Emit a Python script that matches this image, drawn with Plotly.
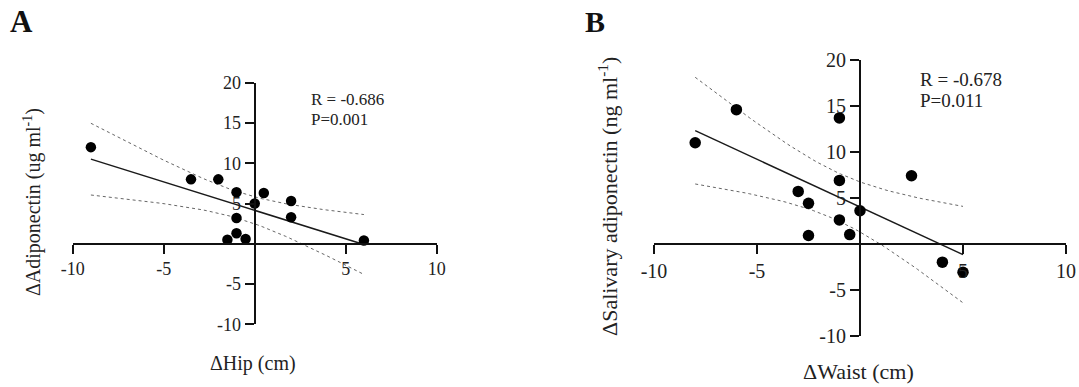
import numpy as np
import plotly.graph_objects as go

# Panel A: change in hip circumference vs change in serum adiponectin
hip_x = [-9, -3.5, -2, -1, -1, -1, -1.5, -0.5, 0, 0.5, 2, 2, 6]
adipo_y = [12, 8, 8, 6.4, 3.2, 1.3, 0.5, 0.6, 5, 6.3, 5.3, 3.3, 0.4]

# Panel B: change in waist circumference vs change in salivary adiponectin
waist_x = [-8, -6, -1, -1, -3, -2.5, -1, -2.5, -0.5, 0, 2.5, 4, 5]
saliv_y = [11, 14.6, 13.7, 6.9, 5.7, 4.4, 2.6, 0.9, 1.0, 3.6, 7.4, -2.0, -3.1]

stats_a = ["R = -0.686", "P=0.001"]
stats_b = ["R = -0.678", "P=0.011"]

x_ticks = [-10, -5, 5, 10]
y_ticks = [-10, -5, 5, 10, 15, 20]

T_CRIT = 2.201  # two-sided 95% t quantile, 11 degrees of freedom

W, H = 1079, 387
FONT = "Liberation Serif"


def fit_with_band(x, y, npts=60):
    x = np.asarray(x, float)
    y = np.asarray(y, float)
    n = len(x)
    slope, icpt = np.polyfit(x, y, 1)
    xm = x.mean()
    sxx = ((x - xm) ** 2).sum()
    resid = y - (slope * x + icpt)
    s = np.sqrt((resid ** 2).sum() / (n - 2))
    xs = np.linspace(x.min(), x.max(), npts)
    ys = slope * xs + icpt
    se = s * np.sqrt(1.0 / n + (xs - xm) ** 2 / sxx)
    return xs, ys, ys - T_CRIT * se, ys + T_CRIT * se


def px_x(p):
    return p / W


def px_y(p):
    return 1 - p / H


fig = go.Figure()

panels = [
    dict(x=hip_x, y=adipo_y, xa="x", ya="y", msize=10.5),
    dict(x=waist_x, y=saliv_y, xa="x2", ya="y2", msize=11.5),
]

for p in panels:
    xs, ys, lo, hi = fit_with_band(p["x"], p["y"])
    for band in (lo, hi):
        fig.add_trace(go.Scatter(x=xs, y=band, mode="lines", xaxis=p["xa"], yaxis=p["ya"],
                                 line=dict(color="#666", width=1, dash="dot"),
                                 showlegend=False, hoverinfo="skip"))
    fig.add_trace(go.Scatter(x=xs, y=ys, mode="lines", xaxis=p["xa"], yaxis=p["ya"],
                             line=dict(color="#1a1a1a", width=1.5),
                             showlegend=False, hoverinfo="skip"))
    fig.add_trace(go.Scatter(x=p["x"], y=p["y"], mode="markers", xaxis=p["xa"], yaxis=p["ya"],
                             marker=dict(color="black", size=p["msize"]),
                             showlegend=False))

# Plot areas in pixels: (x at -10, x at 10, y at 20, y at -10)
box_a = (72.7, 436.7, 82.7, 324.3)
box_b = (654.0, 1066.0, 60.0, 335.7)


def axes_for(box, tick_size):
    x0, x1, ytop, ybot = box
    xd = [px_x(x0), px_x(x1)]
    yd = [px_y(ybot), px_y(ytop)]
    # axes cross at the data origin
    xpos = yd[0] + (yd[1] - yd[0]) * (10 / 30)
    ypos = xd[0] + (xd[1] - xd[0]) * 0.5
    common = dict(showline=True, linecolor="#111", linewidth=2, ticks="outside",
                  ticklen=9, tickwidth=2, tickcolor="#111", showgrid=False,
                  zeroline=False, tickfont=dict(family=FONT, size=tick_size, color="#222"))
    xa = dict(domain=xd, range=[-10, 10], anchor="free", position=xpos,
              tickvals=x_ticks, ticktext=[str(v) for v in x_ticks], **common)
    ya = dict(domain=yd, range=[-10, 20], anchor="free", position=ypos,
              tickvals=y_ticks, ticktext=[str(v) for v in y_ticks], **common)
    return xa, ya


xa1, ya1 = axes_for(box_a, 18)
xa2, ya2 = axes_for(box_b, 20)
fig.update_layout(xaxis=xa1, yaxis=ya1, xaxis2=xa2, yaxis2=ya2)

ann = []


def text(x, y, s, size, bold=False, angle=0, xanchor="center"):
    ann.append(dict(x=px_x(x), y=px_y(y), xref="paper", yref="paper", text=s,
                    showarrow=False, textangle=angle, xanchor=xanchor, yanchor="middle",
                    font=dict(family=FONT, size=size, color="#111" if bold else "#222")))


text(21, 22, "<b>A</b>", 31, bold=True)
text(595, 22, "<b>B</b>", 30, bold=True)

text(253, 363, "ΔHip (cm)", 20)
text(858, 371, "ΔWaist (cm)", 22)
text(32, 202, "ΔAdiponectin (ug ml<sup>-1</sup>)", 20, angle=-90)
text(608, 197, "ΔSalivary adiponectin (ng ml<sup>-1</sup>)", 22, angle=-90)

text(309, 99, stats_a[0], 17, xanchor="left")
text(309, 119, stats_a[1], 17, xanchor="left")
text(918, 79, stats_b[0], 19, xanchor="left")
text(918, 101, stats_b[1], 19, xanchor="left")

fig.update_layout(
    width=W, height=H,
    margin=dict(l=0, r=0, t=0, b=0, autoexpand=False),
    paper_bgcolor="white", plot_bgcolor="rgba(0,0,0,0)",
    annotations=ann,
    showlegend=False,
)

fig.write_html("out.html")
